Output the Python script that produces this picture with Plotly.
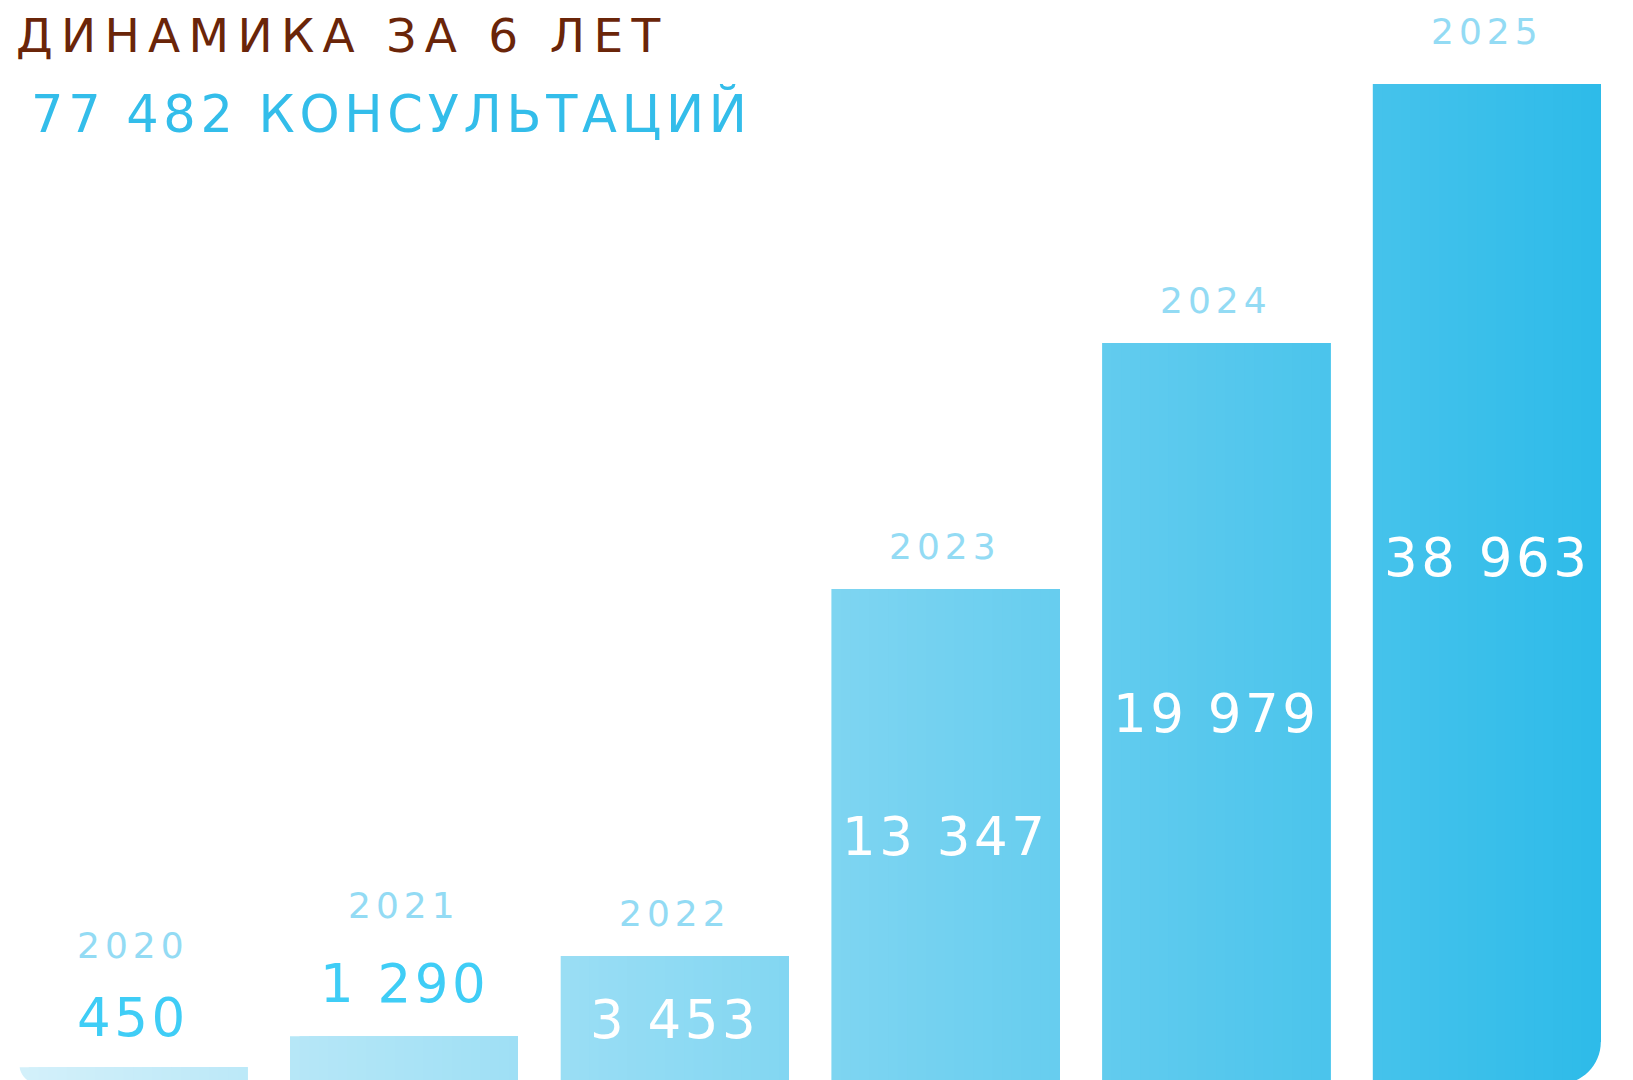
import plotly.graph_objects as go

# ---------------- data ----------------
years = ["2020", "2021", "2022", "2023", "2024", "2025"]
consultations = [450, 1290, 3453, 13347, 19979, 38963]
value_labels = ["450", "1 290", "3 453", "13 347", "19 979", "38 963"]
title_text = "ДИНАМИКА ЗА 6 ЛЕТ"
subtitle_text = "77 482 КОНСУЛЬТАЦИЙ"

# ---------------- layout constants ----------------
W, H = 1633, 1080
PAGE_OFF = 8              # the page body adds an 8px margin around the figure
M_TOP = 84 - PAGE_OFF     # top of the plotting area (2025 bar is cut here)
VAL_PER_PX = 26.96        # value units per pixel
PX_PER_X = 270.7          # pixel pitch between bars
X0_PX = 133.3 - PAGE_OFF  # pixel centre of first bar
BAR_W = 228.0 / PX_PER_X  # bar width in category units
BASELINE_PX = 1084 - PAGE_OFF  # baseline just below the visible edge

y_lo = -(H - BASELINE_PX) * VAL_PER_PX
y_hi = y_lo + (H - M_TOP) * VAL_PER_PX
x_lo = -X0_PX / PX_PER_X
x_hi = (W - X0_PX) / PX_PER_X

GRAD_L = (211, 240, 250)
GRAD_R = (46, 187, 233)
n = len(years)
xs = list(range(n))


def grad(u):
    left = -BAR_W / 2
    right = (n - 1) + BAR_W / 2
    t = (u - left) / (right - left)
    t = max(0.0, min(1.0, t))
    return "rgb(%d,%d,%d)" % tuple(round(a + (b - a) * t) for a, b in zip(GRAD_L, GRAD_R))


fig = go.Figure()

# horizontal gradient: stacked slices, each covering from its left edge to bar's right edge
N_SLICES = 24
step = BAR_W / N_SLICES
for k in range(N_SLICES):
    off = -BAR_W / 2 + k * step
    fig.add_trace(go.Bar(
        x=xs, y=consultations, offset=off, width=BAR_W - k * step,
        marker=dict(color=[grad(i + off + step / 2) for i in xs], line=dict(width=0)),
        hoverinfo="skip", showlegend=False,
    ))

# rounded outer bottom corners (first bar left, last bar right)
corner_styles = {0: ("left", 20), n - 1: ("right", 42)}
shapes = []
KAPPA = 0.5523
EXTRA = 3 / PX_PER_X  # mask reaches a little past the bar edge (hides anti-aliasing)
for i, (side, r_px) in corner_styles.items():
    rx = r_px / PX_PER_X
    ry = r_px * VAL_PER_PX
    if side == "right":
        X = xs[i] + BAR_W / 2
        path = (f"M {X + EXTRA},0 L {X + EXTRA},{ry} L {X},{ry} C {X},{ry * (1 - KAPPA)} "
                f"{X - rx * (1 - KAPPA)},0 {X - rx},0 Z")
    else:
        X = xs[i] - BAR_W / 2
        path = (f"M {X - EXTRA},0 L {X - EXTRA},{ry} L {X},{ry} C {X},{ry * (1 - KAPPA)} "
                f"{X + rx * (1 - KAPPA)},0 {X + rx},0 Z")
    shapes.append(dict(type="path", path=path, xref="x", yref="y",
                       fillcolor="white", line=dict(width=0), layer="above"))


def spaced(text, ls):
    return f'<span style="letter-spacing:{ls}px">{text}</span>'


FONT = "DejaVu Sans"
annotations = []

# year labels above bars
YEAR_SIZE, YEAR_LS = 36, 5
year_gap_px = [122, 131, 42, 42, 42, 53]
for i, (yr, v) in enumerate(zip(years, consultations)):
    annotations.append(dict(
        x=xs[i], y=min(v, y_hi), xref="x", yref="y", yshift=year_gap_px[i],
        text=spaced(yr, YEAR_LS), showarrow=False, xanchor="center", yanchor="middle",
        font=dict(family=FONT, size=YEAR_SIZE, color="#93dbf4"),
    ))

# value labels
VAL_SIZE, VAL_LS = 53, 3.5
INSIDE_MIN = 3000
value_shift_px = [50, 53, 0, 0, 0, 27]
for i, (lab, v) in enumerate(zip(value_labels, consultations)):
    inside = v >= INSIDE_MIN
    yv = min(v, y_hi) / 2 if inside else min(v, y_hi)
    annotations.append(dict(
        x=xs[i], y=yv, xref="x", yref="y", yshift=value_shift_px[i],
        text=spaced(lab, VAL_LS), showarrow=False, xanchor="center", yanchor="middle",
        font=dict(family=FONT, size=VAL_SIZE, color="white" if inside else "#3fcdf6"),
    ))


def py2paper(py):
    return (H - (py - PAGE_OFF)) / (H - M_TOP)


annotations.append(dict(
    x=(14 - PAGE_OFF) / W, y=py2paper(35), xref="paper", yref="paper", text=spaced(title_text, 8.3),
    showarrow=False, xanchor="left", yanchor="middle",
    font=dict(family=FONT, size=47, color="#6a2509"),
))
annotations.append(dict(
    x=(29 - PAGE_OFF) / W, y=py2paper(114), xref="paper", yref="paper", text=spaced(subtitle_text, 4.7),
    showarrow=False, xanchor="left", yanchor="middle",
    font=dict(family=FONT, size=51, color="#33bdea"),
))

fig.update_layout(
    width=W, height=H,
    margin=dict(l=0, r=0, t=M_TOP, b=0, pad=0),
    paper_bgcolor="white", plot_bgcolor="white",
    barmode="overlay",
    xaxis=dict(range=[x_lo, x_hi], visible=False, fixedrange=True),
    yaxis=dict(range=[y_lo, y_hi], visible=False, fixedrange=True),
    shapes=shapes,
    annotations=annotations,
    showlegend=False,
    hovermode=False,
)

fig.write_html("out.html", config={"displayModeBar": False})
